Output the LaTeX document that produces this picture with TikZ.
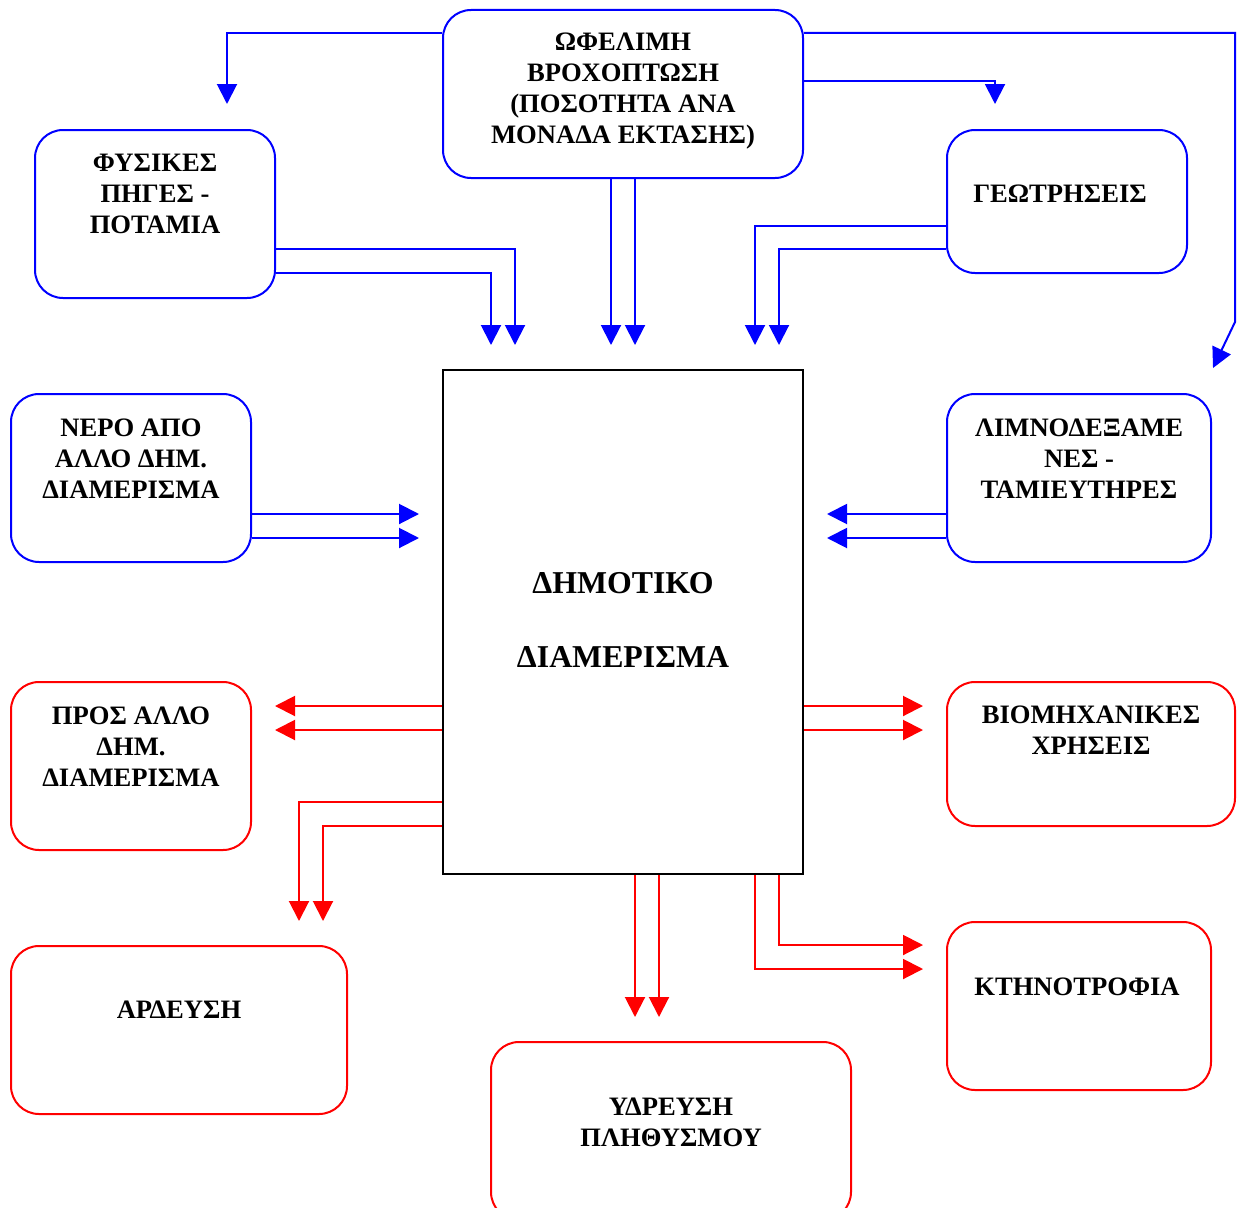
\documentclass[tikz,border=0pt]{standalone}
\usepackage{fontspec}
\setmainfont{Liberation Serif}
\usetikzlibrary{arrows.meta}
\definecolor{pblue}{RGB}{0,0,255}
\definecolor{pred}{RGB}{255,0,0}
\tikzset{
  boxbase/.style={draw, rounded corners=28pt, line width=2pt, inner sep=0pt, fill=none},
  bluebox/.style={boxbase, draw=pblue},
  redbox/.style={boxbase, draw=pred},
  centerbox/.style={draw=black, line width=2pt, inner sep=0pt},
  lbl/.style={align=center, inner sep=0pt, font=\fontsize{26.6}{31}\selectfont\bfseries},
  biglbl/.style={align=center, inner sep=0pt, font=\fontsize{31.8}{37}\selectfont\bfseries},
  tip/.style={-{Triangle[length=20pt,width=20pt]}},
  bline/.style={tip, draw=pblue, line width=2pt, color=pblue},
  rline/.style={tip, draw=pred, line width=2pt, color=pred},
}
\begin{document}
\begin{tikzpicture}[x=1pt,y=-1pt]
\useasboundingbox (0,0) rectangle (1244,1207);
% boxes
\node[bluebox, minimum width=360pt, minimum height=168pt] (rain) at (623,94) {};
\node[bluebox, minimum width=240pt, minimum height=168pt] (phys) at (155,214) {};
\node[bluebox, minimum width=240pt, minimum height=143pt] (geo) at (1067,201.5) {};
\node[bluebox, minimum width=240pt, minimum height=168pt] (nero) at (131,478) {};
\node[bluebox, minimum width=264pt, minimum height=168pt] (limno) at (1079,478) {};
\node[centerbox, minimum width=360pt, minimum height=504pt] (dim) at (623,622) {};
\node[redbox, minimum width=240pt, minimum height=168pt] (pros) at (131,766) {};
\node[redbox, minimum width=288pt, minimum height=144pt] (biom) at (1091,754) {};
\node[redbox, minimum width=336pt, minimum height=168pt] (ard) at (179,1030) {};
\node[redbox, minimum width=360pt, minimum height=178pt] (ydr) at (671,1131) {};
\node[redbox, minimum width=264pt, minimum height=168pt] (ktin) at (1079,1006) {};
% texts
\node[lbl] (train) at (623,91) {ΩΦΕΛΙΜΗ\\ΒΡΟΧΟΠΤΩΣΗ\\(ΠΟΣΟΤΗΤΑ ΑΝΑ\\ΜΟΝΑΔΑ ΕΚΤΑΣΗΣ)};
\node[lbl] (tphys) at (155,193.5) {ΦΥΣΙΚΕΣ\\ΠΗΓΕΣ -\\ΠΟΤΑΜΙΑ};
\node[lbl] (tgeo) at (1060,194) {ΓΕΩΤΡΗΣΕΙΣ};
\node[lbl] (tnero) at (131,459) {ΝΕΡΟ ΑΠΟ\\ΑΛΛΟ ΔΗΜ.\\ΔΙΑΜΕΡΙΣΜΑ};
\node[lbl] (tlimno) at (1079,459) {ΛΙΜΝΟΔΕΞΑΜΕ\\ΝΕΣ -\\ΤΑΜΙΕΥΤΗΡΕΣ};
\node[biglbl] (tdim) at (623,620) {ΔΗΜΟΤΙΚΟ\\[37pt]ΔΙΑΜΕΡΙΣΜΑ};
\node[lbl] (tpros) at (131,747) {ΠΡΟΣ ΑΛΛΟ\\ΔΗΜ.\\ΔΙΑΜΕΡΙΣΜΑ};
\node[lbl] (tbiom) at (1091,730) {ΒΙΟΜΗΧΑΝΙΚΕΣ\\ΧΡΗΣΕΙΣ};
\node[lbl] (tard) at (179,1010) {ΑΡΔΕΥΣΗ};
\node[lbl] (tydr) at (671,1122) {ΥΔΡΕΥΣΗ\\ΠΛΗΘΥΣΜΟΥ};
\node[lbl] (tktin) at (1077,987) {ΚΤΗΝΟΤΡΟΦΙΑ};
% arrow tips (free ends)
\coordinate (aphys) at (227,104);
\coordinate (ageo) at (995,104);
\coordinate (alimno) at (1213,368);
% blue connectors
\draw[bline] (rain.west |- 0,33) -| (aphys);
\draw[bline] (rain.east |- 0,81) -| (ageo);
\draw[bline] (rain.east |- 0,33) -- (1235,33) -- (1235,322) -- (alimno);
\draw[bline] (rain.south -| 611,0) -- (611,345);
\draw[bline] (rain.south -| 635,0) -- (635,345);
\draw[bline] (phys.east |- 0,249) -| (515,345);
\draw[bline] (phys.east |- 0,273) -| (491,345);
\draw[bline] (geo.west |- 0,226) -| (755,345);
\draw[bline] (geo.west |- 0,249) -| (779,345);
\draw[bline] (nero.east |- 0,514) -- (419,514);
\draw[bline] (nero.east |- 0,538) -- (419,538);
\draw[bline] (limno.west |- 0,514) -- (827,514);
\draw[bline] (limno.west |- 0,538) -- (827,538);
% red connectors
\draw[rline] (dim.west |- 0,706) -- (275,706);
\draw[rline] (dim.west |- 0,730) -- (275,730);
\draw[rline] (dim.west |- 0,802) -| (299,921);
\draw[rline] (dim.west |- 0,826) -| (323,921);
\draw[rline] (dim.east |- 0,706) -- (923,706);
\draw[rline] (dim.east |- 0,730) -- (923,730);
\draw[rline] (dim.south -| 635,0) -- (635,1017);
\draw[rline] (dim.south -| 659,0) -- (659,1017);
\draw[rline] (dim.south -| 779,0) |- (923,945);
\draw[rline] (dim.south -| 755,0) |- (923,969);
\end{tikzpicture}
\end{document}
